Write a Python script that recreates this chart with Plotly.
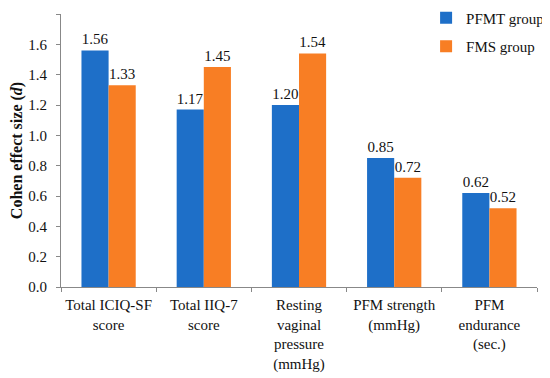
import plotly.graph_objects as go

categories = ["Total ICIQ-SF<br>score", "Total IIQ-7<br>score",
              "Resting<br>vaginal<br>pressure<br>(mmHg)", "PFM strength<br>(mmHg)",
              "PFM<br>endurance<br>(sec.)"]
pfmt_values = [1.56, 1.17, 1.20, 0.85, 0.62]
fms_values = [1.33, 1.45, 1.54, 0.72, 0.52]
y_ticks = [0.0, 0.2, 0.4, 0.6, 0.8, 1.0, 1.2, 1.4, 1.6, 1.8]

FONT = "Liberation Serif"
BLUE = "#1E6FC8"
ORANGE = "#F87E24"

fig = go.Figure()
fig.add_trace(go.Bar(x=categories, y=pfmt_values, name="PFMT group",
                     marker=dict(color=BLUE, line=dict(width=10, color="rgba(0,0,0,0)")),
                     text=[f"{v:.2f}" for v in pfmt_values], textposition="outside",
                     textfont=dict(family=FONT, size=15, color="#111"),
                     cliponaxis=False, legendgroup="a"))
fig.add_trace(go.Bar(x=categories, y=fms_values, name="FMS group",
                     marker=dict(color=ORANGE, line=dict(width=10, color="rgba(0,0,0,0)")),
                     text=[f"{v:.2f}" for v in fms_values], textposition="outside",
                     textfont=dict(family=FONT, size=15, color="#111"),
                     cliponaxis=False, legendgroup="b"))

# page body has an 8px margin, so the figure is drawn 8px in from the top-left
fig.update_layout(
    width=542, height=370,
    margin=dict(l=53, r=13, t=6, b=91, autoexpand=False),
    paper_bgcolor="white", plot_bgcolor="white",
    barmode="group", bargap=0.43, bargroupgap=0,
    font=dict(family=FONT, size=15, color="#111"),
    showlegend=True,
    legend=dict(x=0.767, y=1.046, xanchor="left", yanchor="top",
                font=dict(family=FONT, size=15), tracegroupgap=6,
                itemwidth=30, bgcolor="rgba(0,0,0,0)"),
)
fig.update_xaxes(showline=True, linecolor="#888", linewidth=1,
                 ticks="outside", tickson="boundaries", ticklen=4, tickcolor="#888",
                 tickangle=0, automargin=False, ticklabelstandoff=4,
                 tickfont=dict(family=FONT, size=15), showgrid=False)
fig.update_yaxes(range=[0, 1.8], tickvals=y_ticks, ticktext=[f"{v:.1f}" for v in y_ticks],
                 showline=True, linecolor="#888", linewidth=1, automargin=False,
                 ticks="outside", ticklen=4, tickcolor="#888", showgrid=False, zeroline=False,
                 ticklabelstandoff=6,
                 tickfont=dict(family=FONT, size=15),
                 title=dict(text="<b>Cohen effect size (<i>d</i>)</b>",
                            font=dict(family=FONT, size=16), standoff=6))

fig.write_html("out.html")
